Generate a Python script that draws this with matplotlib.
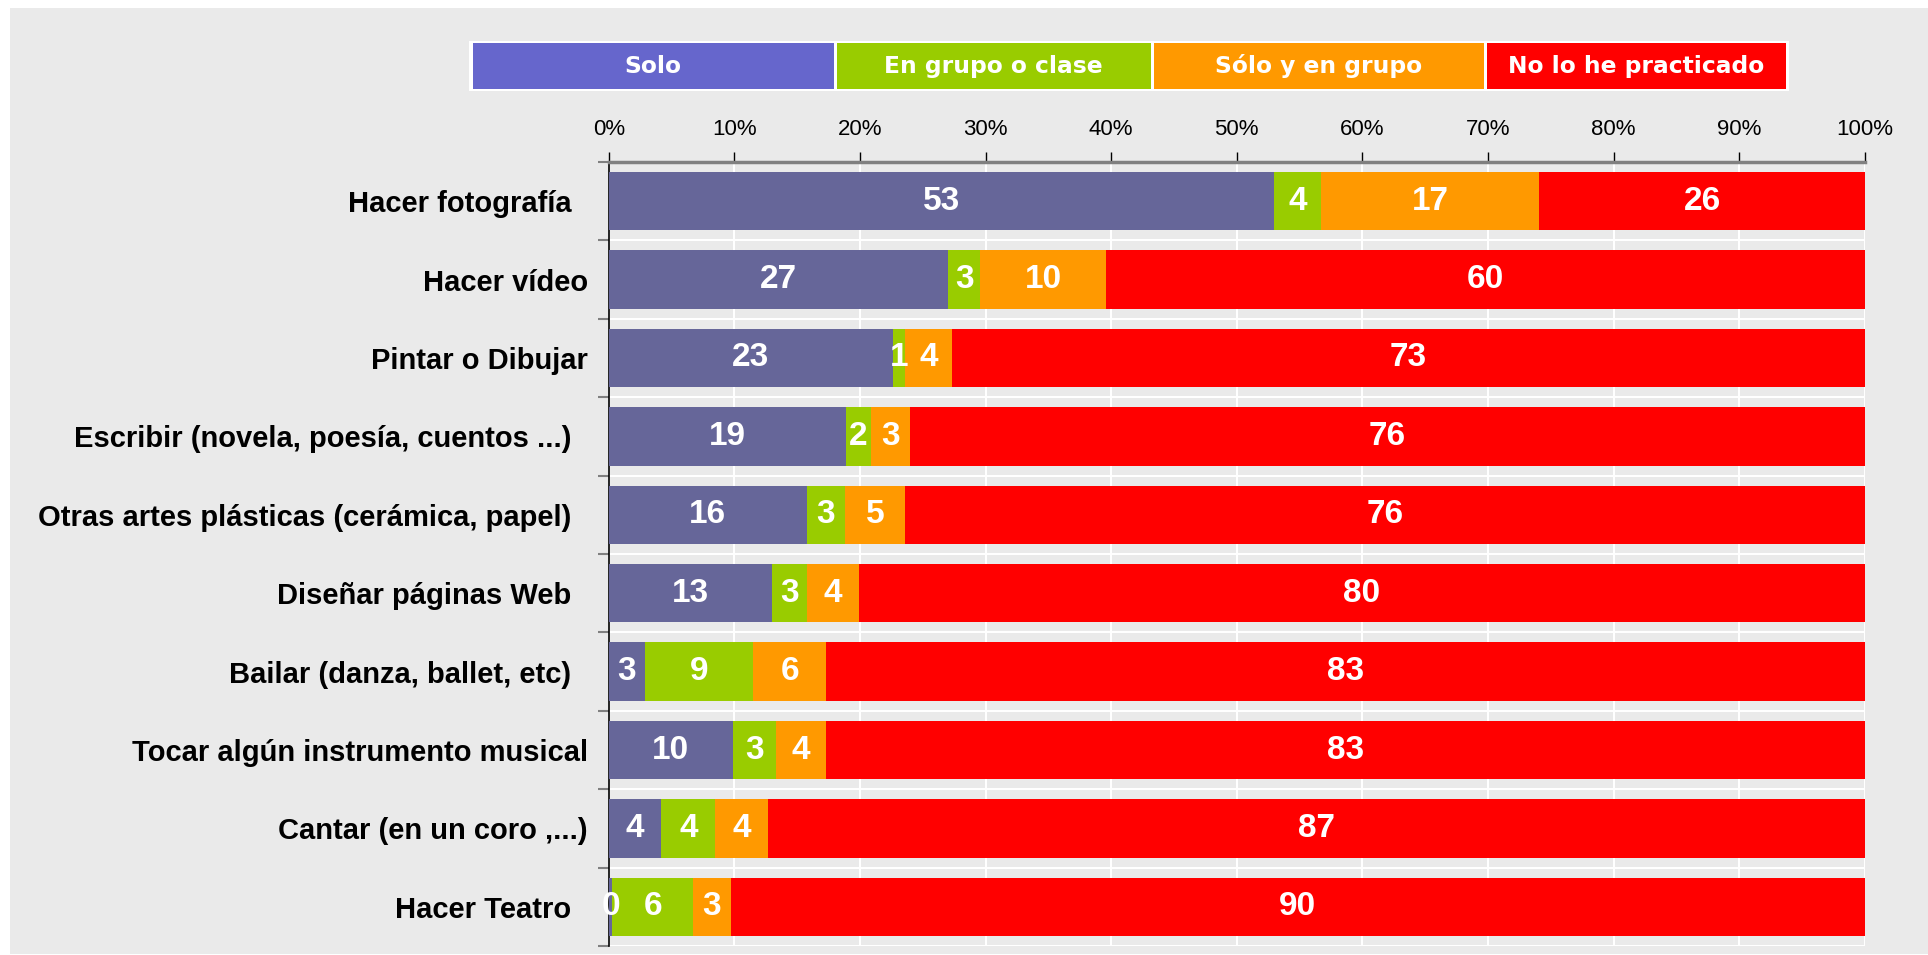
import matplotlib
matplotlib.use("Agg")
import matplotlib.pyplot as plt
from matplotlib.patches import Rectangle
from matplotlib.ticker import FuncFormatter, MultipleLocator, FixedLocator

# data (percent of respondents)
actividades = ['Hacer fotografía  ', 'Hacer vídeo', 'Pintar o Dibujar',
               'Escribir (novela, poesía, cuentos ...)  ',
               'Otras artes plásticas (cerámica, papel)  ',
               'Diseñar páginas Web  ', 'Bailar (danza, ballet, etc)  ',
               'Tocar algún instrumento musical', 'Cantar (en un coro ,...)',
               'Hacer Teatro  ']
solo = [53.0, 27.0, 22.6, 18.9, 15.8, 13.0, 2.9, 9.9, 4.2, 0.3]
grupo = [3.7, 2.6, 1.0, 2.0, 3.0, 2.8, 8.6, 3.4, 4.3, 6.4]
ambos = [17.4, 10.0, 3.7, 3.1, 4.8, 4.1, 5.8, 4.0, 4.2, 3.0]
nunca = [25.9, 60.4, 72.7, 76.0, 76.4, 80.1, 82.7, 82.7, 87.3, 90.3]

series_names = ['Solo', 'En grupo o clase', 'Sólo y en grupo', 'No lo he practicado']
bar_colors = ['#666699', '#99CC00', '#FF9900', '#FF0000']
legend_colors = ['#6666CC', '#99CC00', '#FF9900', '#FF0000']

W, H = 1928, 955
fig = plt.figure(figsize=(W / 100, H / 100), dpi=100, facecolor='white')

# gray panel behind everything
fig.add_artist(Rectangle((10 / W, 1 - 954 / H), (W - 10) / W, (954 - 8) / H,
                         transform=fig.transFigure, facecolor='#EAEAEA',
                         edgecolor='none', zorder=0))

ax = fig.add_axes([608.7 / W, 1 - 946 / H, (1864.7 - 608.7) / W, (946 - 162) / H])
ax.set_facecolor('#EAEAEA')

ypos = list(range(len(actividades)))
left = [0.0] * len(actividades)
for vals, col in zip([solo, grupo, ambos, nunca], bar_colors):
    ax.barh(ypos, vals, left=left, height=0.745, color=col, edgecolor='none', zorder=3)
    for y, v, l in zip(ypos, vals, left):
        ax.text(l + v / 2, y, f'{v:.0f}', ha='center', va='center', color='white',
                fontsize=24, fontweight='bold', family='Liberation Sans', zorder=4)
    left = [l + v for l, v in zip(left, vals)]

ax.set_xlim(0, 100)
ax.set_ylim(len(actividades) - 0.5, -0.5)

# x axis on top
ax.xaxis.tick_top()
ax.xaxis.set_major_locator(MultipleLocator(10))
ax.xaxis.set_major_formatter(FuncFormatter(lambda v, p: f'{v:.0f}%'))
ax.tick_params(axis='x', direction='out', length=7, width=1, color='black',
               labelsize=16, pad=9)
for lab in ax.get_xticklabels():
    lab.set_family('Liberation Sans')

# y axis: labels at centres, ticks at boundaries
ax.set_yticks(ypos)
ax.set_yticklabels(actividades, fontsize=21, fontweight='bold', family='Liberation Sans')
ax.tick_params(axis='y', which='major', length=0, pad=15)
ax.yaxis.set_minor_locator(FixedLocator([i - 0.5 for i in range(len(actividades) + 1)]))
ax.tick_params(axis='y', which='minor', length=8, width=1.5, color='#808080')

ax.grid(True, axis='x', color='white', linewidth=1.5, zorder=1)
ax.grid(True, axis='y', which='minor', color='white', linewidth=1.5, zorder=1)
ax.set_axisbelow(True)

for s in ['right', 'bottom']:
    ax.spines[s].set_visible(False)
ax.spines['top'].set_color('#808080')
ax.spines['top'].set_linewidth(2.5)
ax.spines['left'].set_color('black')
ax.spines['left'].set_linewidth(1.2)

# legend strip
edges = [471, 835, 1152, 1485, 1787]
top_px, bot_px = 43.3, 89.3
fig.add_artist(Rectangle((edges[0] / W - 2 / W, 1 - (bot_px + 2) / H),
                         (edges[-1] - edges[0] + 4) / W, (bot_px - top_px + 4) / H,
                         transform=fig.transFigure, facecolor='white',
                         edgecolor='none', zorder=1))
for i, (name, col) in enumerate(zip(series_names, legend_colors)):
    x0, x1 = edges[i] + 1.5, edges[i + 1] - 1.5
    fig.add_artist(Rectangle((x0 / W, 1 - bot_px / H), (x1 - x0) / W, (bot_px - top_px) / H,
                             transform=fig.transFigure, facecolor=col,
                             edgecolor='none', zorder=2))
    fig.text((x0 + x1) / 2 / W, 1 - (top_px + bot_px) / 2 / H, name, ha='center',
             va='center', color='white', fontsize=16.8, fontweight='bold',
             family='DejaVu Sans', zorder=3)

fig.savefig('out.png', dpi=100, facecolor='white')
